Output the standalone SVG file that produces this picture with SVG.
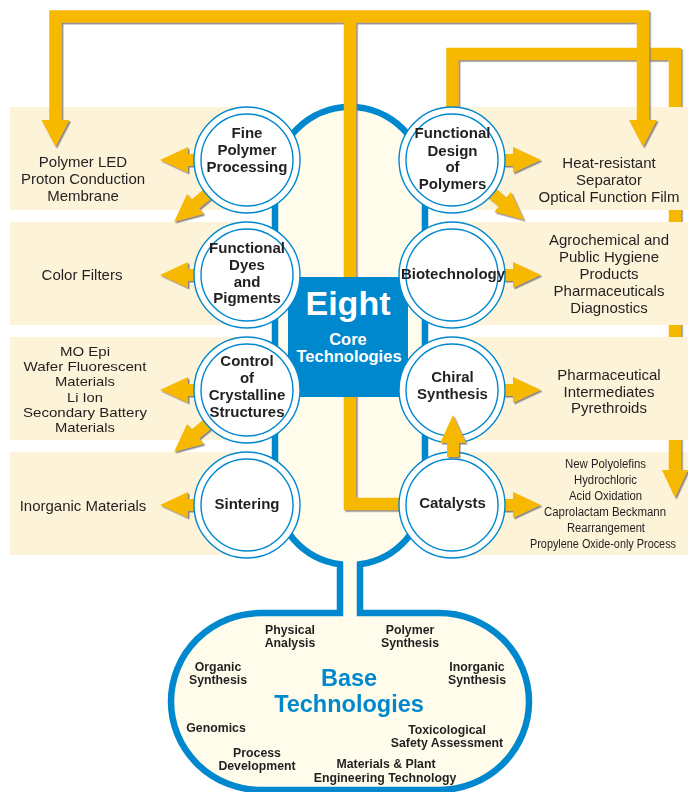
<svg xmlns="http://www.w3.org/2000/svg" xmlns:xlink="http://www.w3.org/1999/xlink" width="688" height="792" viewBox="0 0 688 792">
<style>
.panel{fill:#FDF3D8}
.bar{fill:none;stroke:#F7B800;stroke-width:12.5;stroke-linejoin:miter}
.yel{fill:#F7B800}
.ring{fill:#fff;stroke:#0088CE;stroke-width:1.4}
.inring{fill:none;stroke:#0088CE;stroke-width:1.4}
.lbl{font-family:"Liberation Sans",Arial,sans-serif;font-weight:bold;font-size:15px;fill:#231F20;text-anchor:middle}
.ptxt{font-family:"Liberation Sans",Arial,sans-serif;font-size:15px;fill:#231F20;text-anchor:middle}
.mtxt{font-family:"Liberation Sans",Arial,sans-serif;font-size:13px;fill:#231F20;text-anchor:middle}
.stxt{font-family:"Liberation Sans",Arial,sans-serif;font-size:12px;fill:#231F20;text-anchor:middle}
.btxt{font-family:"Liberation Sans",Arial,sans-serif;font-weight:bold;font-size:12.3px;fill:#231F20;text-anchor:middle}
.wtxt{font-family:"Liberation Sans",Arial,sans-serif;font-weight:bold;fill:#fff;text-anchor:middle}
.bluetxt{font-family:"Liberation Sans",Arial,sans-serif;font-weight:bold;font-size:23.5px;fill:#0088CE;text-anchor:middle}
</style>
<defs>
<filter id="sh" x="-10%" y="-10%" width="120%" height="120%">
<feDropShadow dx="1.5" dy="1.5" stdDeviation="0.4" flood-color="#7a7a7a" flood-opacity="0.9"/>
</filter>
<polygon id="arr" class="yel" points="-42,-6 -28,-6 -28,-13 0,0 -28,13 -28,6 -42,6"/>
<polygon id="arrL" class="yel" points="-54,-6 -28,-6 -28,-13 0,0 -28,13 -28,6 -54,6"/>
</defs>

<rect class="panel" x="458" y="452" width="230" height="103"/>

<g id="connectors-back" filter="url(#sh)">
<path class="bar" d="M452.5 108 V54 H675 V471"/>
<polygon class="yel" points="662,470 688,470 675,498"/>
</g>

<g id="panels">
<rect class="panel" x="10" y="107" width="235" height="103"/>
<rect class="panel" x="10" y="222" width="235" height="103"/>
<rect class="panel" x="10" y="337" width="235" height="103"/>
<rect class="panel" x="10" y="452" width="235" height="103"/>
<rect class="panel" x="458" y="107" width="230" height="103"/>
<rect class="panel" x="458" y="222" width="230" height="103"/>
<rect class="panel" x="458" y="337" width="230" height="103"/>
</g>

<g id="body">
<path d="M340 613 L340 564.3 A75 75 0 0 1 275 490 L275 182 A75 75 0 0 1 425 182 L425 490 A75 75 0 0 1 360 564.3 L360 613 L439 613 A90 88.5 0 0 1 529 701.5 A90 88.5 0 0 1 439 790 L261 790 A90 88.5 0 0 1 171 701.5 A90 88.5 0 0 1 261 613 Z" fill="#FFFCEC" stroke="#0088CE" stroke-width="6.5"/>
</g>

<g id="connectors" filter="url(#sh)">
<path class="bar" d="M55.5 121 V16.5 H643 V121"/>
<path class="bar" d="M350 16.5 V504 H402"/>
<polygon class="yel" points="41.5,120 69.5,120 55.5,147"/>
<polygon class="yel" points="629,120 657,120 643,147"/>
</g>

<g id="core">
<rect x="288" y="277" width="120" height="120" fill="#0088CE"/>
<text class="wtxt" x="348" y="315" font-size="34">Eight</text>
<text class="wtxt" x="348" y="345" font-size="16.5">Core</text>
<text class="wtxt" x="349" y="362" font-size="16.5">Technologies</text>
</g>

<g id="side-arrows" filter="url(#sh)">
<use xlink:href="#arr" transform="translate(160,160) rotate(180)"/>
<use xlink:href="#arrL" transform="translate(174,222) rotate(140)"/>
<use xlink:href="#arr" transform="translate(160,275) rotate(180)"/>
<use xlink:href="#arr" transform="translate(160,390) rotate(180)"/>
<use xlink:href="#arrL" transform="translate(174,452) rotate(140)"/>
<use xlink:href="#arr" transform="translate(160,505) rotate(180)"/>
<use xlink:href="#arr" transform="translate(541,160)"/>
<use xlink:href="#arrL" transform="translate(524,220) rotate(40)"/>
<use xlink:href="#arr" transform="translate(541,275)"/>
<use xlink:href="#arr" transform="translate(541,390)"/>
<use xlink:href="#arr" transform="translate(541,505)"/>
</g>

<g id="fine-polymer">
<circle class="ring" cx="247" cy="160" r="53"/><circle class="inring" cx="247" cy="160" r="46"/>
<text class="lbl" x="247" y="138">Fine</text><text class="lbl" x="247" y="155">Polymer</text><text class="lbl" x="247" y="172">Processing</text>
</g>
<g id="functional-dyes">
<circle class="ring" cx="247" cy="275" r="53"/><circle class="inring" cx="247" cy="275" r="46"/>
<text class="lbl" x="247" y="253">Functional</text><text class="lbl" x="247" y="270">Dyes</text><text class="lbl" x="247" y="286.5">and</text><text class="lbl" x="247" y="303">Pigments</text>
</g>
<g id="crystalline">
<circle class="ring" cx="247" cy="390" r="53"/><circle class="inring" cx="247" cy="390" r="46"/>
<text class="lbl" x="247" y="366">Control</text><text class="lbl" x="247" y="383">of</text><text class="lbl" x="247" y="400">Crystalline</text><text class="lbl" x="247" y="416.5">Structures</text>
</g>
<g id="sintering">
<circle class="ring" cx="247" cy="505" r="53"/><circle class="inring" cx="247" cy="505" r="46"/>
<text class="lbl" x="247" y="509">Sintering</text>
</g>
<g id="functional-design">
<circle class="ring" cx="452" cy="160" r="53"/><circle class="inring" cx="452" cy="160" r="46"/>
<text class="lbl" x="452.5" y="138">Functional</text><text class="lbl" x="452.5" y="155.5">Design</text><text class="lbl" x="452.5" y="172">of</text><text class="lbl" x="452.5" y="189">Polymers</text>
</g>
<g id="biotechnology">
<circle class="ring" cx="452" cy="275" r="53"/><circle class="inring" cx="452" cy="275" r="46"/>
<text class="lbl" x="453" y="279">Biotechnology</text>
</g>
<g id="chiral">
<circle class="ring" cx="452" cy="390" r="53"/><circle class="inring" cx="452" cy="390" r="46"/>
<text class="lbl" x="452.5" y="381.5">Chiral</text><text class="lbl" x="452.5" y="398.5">Synthesis</text>
</g>
<g id="catalysts">
<circle class="ring" cx="452" cy="505" r="53"/><circle class="inring" cx="452" cy="505" r="46"/>
<text class="lbl" x="452.5" y="508">Catalysts</text>
</g>

<g id="up-arrow" filter="url(#sh)">
<use xlink:href="#arr" transform="translate(453,415) rotate(-90)"/>
</g>

<g id="left-texts">
<text class="ptxt" x="83" y="167">Polymer LED</text>
<text class="ptxt" x="83" y="184">Proton Conduction</text>
<text class="ptxt" x="83" y="201">Membrane</text>
<text class="ptxt" x="82" y="280">Color Filters</text>
<text class="mtxt" x="85" y="356" textLength="50" lengthAdjust="spacingAndGlyphs">MO Epi</text>
<text class="mtxt" x="85" y="371.2" textLength="123" lengthAdjust="spacingAndGlyphs">Wafer Fluorescent</text>
<text class="mtxt" x="85" y="386.4" textLength="60" lengthAdjust="spacingAndGlyphs">Materials</text>
<text class="mtxt" x="85" y="401.6" textLength="36" lengthAdjust="spacingAndGlyphs">Li Ion</text>
<text class="mtxt" x="85" y="416.8" textLength="124" lengthAdjust="spacingAndGlyphs">Secondary Battery</text>
<text class="mtxt" x="85" y="432" textLength="60" lengthAdjust="spacingAndGlyphs">Materials</text>
<text class="ptxt" x="83" y="511">Inorganic Materials</text>
</g>
<g id="right-texts">
<text class="ptxt" x="609" y="168">Heat-resistant</text>
<text class="ptxt" x="609" y="185">Separator</text>
<text class="ptxt" x="609" y="202">Optical Function Film</text>
<text class="ptxt" x="609" y="245">Agrochemical and</text>
<text class="ptxt" x="609" y="262">Public Hygiene</text>
<text class="ptxt" x="609" y="279">Products</text>
<text class="ptxt" x="609" y="296">Pharmaceuticals</text>
<text class="ptxt" x="609" y="313">Diagnostics</text>
<text class="ptxt" x="609" y="380">Pharmaceutical</text>
<text class="ptxt" x="609" y="397">Intermediates</text>
<text class="ptxt" x="609" y="413">Pyrethroids</text>
<text class="stxt" x="605.5" y="468" textLength="81" lengthAdjust="spacingAndGlyphs">New Polyolefins</text>
<text class="stxt" x="605.5" y="484" textLength="63" lengthAdjust="spacingAndGlyphs">Hydrochloric</text>
<text class="stxt" x="605.5" y="500" textLength="73" lengthAdjust="spacingAndGlyphs">Acid Oxidation</text>
<text class="stxt" x="605" y="516" textLength="122" lengthAdjust="spacingAndGlyphs">Caprolactam Beckmann</text>
<text class="stxt" x="606" y="532" textLength="78" lengthAdjust="spacingAndGlyphs">Rearrangement</text>
<text class="stxt" x="603" y="548" font-size="10.8" textLength="146" lengthAdjust="spacingAndGlyphs">Propylene Oxide-only Process</text>
</g>

<g id="base-technologies">
<text class="btxt" x="290" y="634">Physical</text><text class="btxt" x="290" y="647">Analysis</text>
<text class="btxt" x="410" y="634">Polymer</text><text class="btxt" x="410" y="647">Synthesis</text>
<text class="btxt" x="218" y="671">Organic</text><text class="btxt" x="218" y="684">Synthesis</text>
<text class="btxt" x="477" y="671">Inorganic</text><text class="btxt" x="477" y="684">Synthesis</text>
<text class="bluetxt" x="349" y="685.5">Base</text>
<text class="bluetxt" x="349" y="711.5">Technologies</text>
<text class="btxt" x="216" y="732">Genomics</text>
<text class="btxt" x="257" y="757">Process</text><text class="btxt" x="257" y="770">Development</text>
<text class="btxt" x="447" y="734">Toxicological</text><text class="btxt" x="447" y="747">Safety Assessment</text>
<text class="btxt" x="386" y="768">Materials &amp; Plant</text><text class="btxt" x="385" y="782">Engineering Technology</text>
</g>
</svg>
